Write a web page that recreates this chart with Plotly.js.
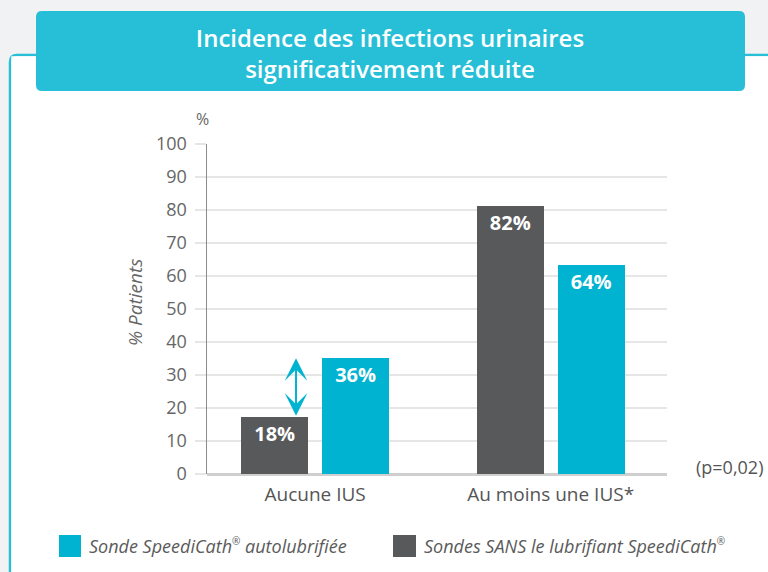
<!DOCTYPE html>
<html>
<head>
<meta charset="utf-8">
<script src="https://cdn.plot.ly/plotly-3.0.1.min.js"></script>
<style>html,body{margin:0;padding:0;background:#f1f2f4;}#chart{width:768px;height:572px;}</style>
</head>
<body>
<div id="chart"></div>
<script>
// ---- data ----
const categories = ['Aucune IUS', 'Au moins une IUS*'];
const sansValues = [17.2, 81.2];          // bar heights
const sansLabels = ['18%', '82%'];
const speediValues = [35.1, 63.3];
const speediLabels = ['36%', '64%'];
const seriesNames = ['Sonde SpeediCath<sup><span style="font-size:10px">®</span></sup> autolubrifiée',
                     'Sondes SANS le lubrifiant SpeediCath<sup><span style="font-size:10px">®</span></sup>'];
const yTicks = [0, 10, 20, 30, 40, 50, 60, 70, 80, 90, 100];
const titleText = 'Incidence des infections urinaires<br>significativement réduite';
const yTitleText = '% Patients';
const pValueText = '(p=0,02)';

// ---- styling / geometry ----
const TEAL = '#00b3d0', BOX = '#27bfd7', GREY = '#58595b', TXT = '#666666';
const FONT = 'Open Sans, sans-serif';
const W = 768, H = 572, L = 207, R = 667, T = 144, B = 474;
const px = x => (x - L) / (R - L);
const py = y => (B - y) / (B - T);
function rr(x0, y0, x1, y1, r) {
  const p = (x, y) => px(x).toFixed(5) + ',' + py(y).toFixed(5);
  return 'M' + p(x0 + r, y0) + ' L' + p(x1 - r, y0) + ' Q' + p(x1, y0) + ' ' + p(x1, y0 + r) +
    ' L' + p(x1, y1 - r) + ' Q' + p(x1, y1) + ' ' + p(x1 - r, y1) +
    ' L' + p(x0 + r, y1) + ' Q' + p(x0, y1) + ' ' + p(x0, y1 - r) +
    ' L' + p(x0, y0 + r) + ' Q' + p(x0, y0) + ' ' + p(x0 + r, y0) + ' Z';
}
function framePath(x0, y0, r) {
  const p = (x, y) => px(x).toFixed(5) + ',' + py(y).toFixed(5);
  return 'M' + p(x0, 620) + ' L' + p(x0, y0 + r) + ' Q' + p(x0, y0) + ' ' + p(x0 + r, y0) + ' L' + p(820, y0);
}

const xIdx = categories.map((c, i) => i);
const barW = 0.2845;
const textFont = {family: FONT, size: 20, color: '#ffffff', weight: 700};

const traces = [
  {type: 'bar', x: xIdx, y: sansValues, text: sansLabels, name: 'SANS',
   marker: {color: GREY}, width: barW, offset: -0.314,
   textposition: 'inside', insidetextanchor: 'end', textangle: 0, constraintext: 'none',
   textfont: textFont, hoverinfo: 'skip', showlegend: false},
  {type: 'bar', x: xIdx, y: speediValues, text: speediLabels, name: 'SpeediCath',
   marker: {color: TEAL}, width: barW, offset: 0.0297,
   textposition: 'inside', insidetextanchor: 'end', textangle: 0, constraintext: 'none',
   textfont: textFont, hoverinfo: 'skip', showlegend: false}
];

const legendFont = {family: FONT, size: 18, color: '#5a5a5a', style: 'italic'};
const arrowX = -0.081;

const layout = {
  width: W, height: H,
  margin: {l: L, r: W - R, t: T, b: H - B, pad: 0},
  paper_bgcolor: '#f1f2f4',
  plot_bgcolor: 'rgba(0,0,0,0)',
  title: {text: titleText, x: 390 / W, xref: 'container', xanchor: 'center',
          y: 1 - 47 / H, yref: 'container', yanchor: 'middle',
          font: {family: FONT, size: 24, color: '#ffffff', weight: 600}},
  xaxis: {range: [-0.459, 1.494], tickvals: xIdx, ticktext: categories,
          showgrid: false, zeroline: false, showline: false, ticks: '',
          ticklabelstandoff: 7,
          tickfont: {family: FONT, size: 19, color: '#555555'}},
  yaxis: {range: [0, 100], tickvals: yTicks, showgrid: true, gridcolor: '#e6e6e6', gridwidth: 2,
          zeroline: true, zerolinecolor: '#cfcfcf', zerolinewidth: 3,
          showline: true, linecolor: '#8c8c8c', linewidth: 1.5,
          ticks: 'outside', ticklen: 11, tickwidth: 2, tickcolor: '#e6e6e6',
          ticklabelstandoff: 4,
          tickfont: {family: FONT, size: 18, color: TXT}},
  shapes: [
    {type: 'path', xref: 'paper', yref: 'paper', layer: 'below', path: framePath(10, 55, 7),
     line: {color: BOX, width: 2.5}, fillcolor: 'rgba(0,0,0,0)'},
    {type: 'rect', xref: 'paper', yref: 'paper', layer: 'below',
     x0: px(11.3), x1: px(790), y0: py(590), y1: py(56.3), line: {width: 0}, fillcolor: '#ffffff'},
    {type: 'path', xref: 'paper', yref: 'paper', layer: 'below', path: rr(36, 11, 745, 91, 6),
     line: {width: 0}, fillcolor: BOX},
    {type: 'rect', xref: 'paper', yref: 'paper', x0: px(59), x1: px(81), y0: py(557), y1: py(535),
     line: {width: 0}, fillcolor: TEAL},
    {type: 'rect', xref: 'paper', yref: 'paper', x0: px(393), x1: px(416), y0: py(557), y1: py(535),
     line: {width: 0}, fillcolor: GREY}
  ],
  annotations: [
    {text: yTitleText, xref: 'paper', yref: 'paper', x: px(135), y: py(303), showarrow: false,
     textangle: -90, xanchor: 'center', yanchor: 'middle',
     font: {family: FONT, size: 19, color: TXT, style: 'italic'}},
    {text: '%', xref: 'paper', yref: 'paper', x: px(202), y: py(119), showarrow: false,
     xanchor: 'center', yanchor: 'middle', font: {family: FONT, size: 16, color: TXT}},
    {text: pValueText, xref: 'paper', yref: 'paper', x: px(729), y: py(467), showarrow: false,
     xanchor: 'center', yanchor: 'middle', font: {family: FONT, size: 18, color: '#555555'}},
    {text: seriesNames[0], xref: 'paper', yref: 'paper', x: px(87), y: py(546), showarrow: false,
     xanchor: 'left', yanchor: 'middle', font: legendFont},
    {text: seriesNames[1], xref: 'paper', yref: 'paper', x: px(422), y: py(546), showarrow: false,
     xanchor: 'left', yanchor: 'middle', font: legendFont},
    {text: '', xref: 'x', yref: 'y', x: arrowX, y: speediValues[0], axref: 'x', ayref: 'y',
     ax: arrowX, ay: sansValues[0], showarrow: true, arrowside: 'end+start', arrowhead: 3, startarrowhead: 3,
     arrowsize: 1.9, startarrowsize: 1.9, arrowwidth: 2, arrowcolor: TEAL, standoff: 0, startstandoff: 0}
  ],
  bargap: 0, showlegend: false
};

Plotly.newPlot('chart', traces, layout, {displayModeBar: false, staticPlot: true});
</script>
</body>
</html>
